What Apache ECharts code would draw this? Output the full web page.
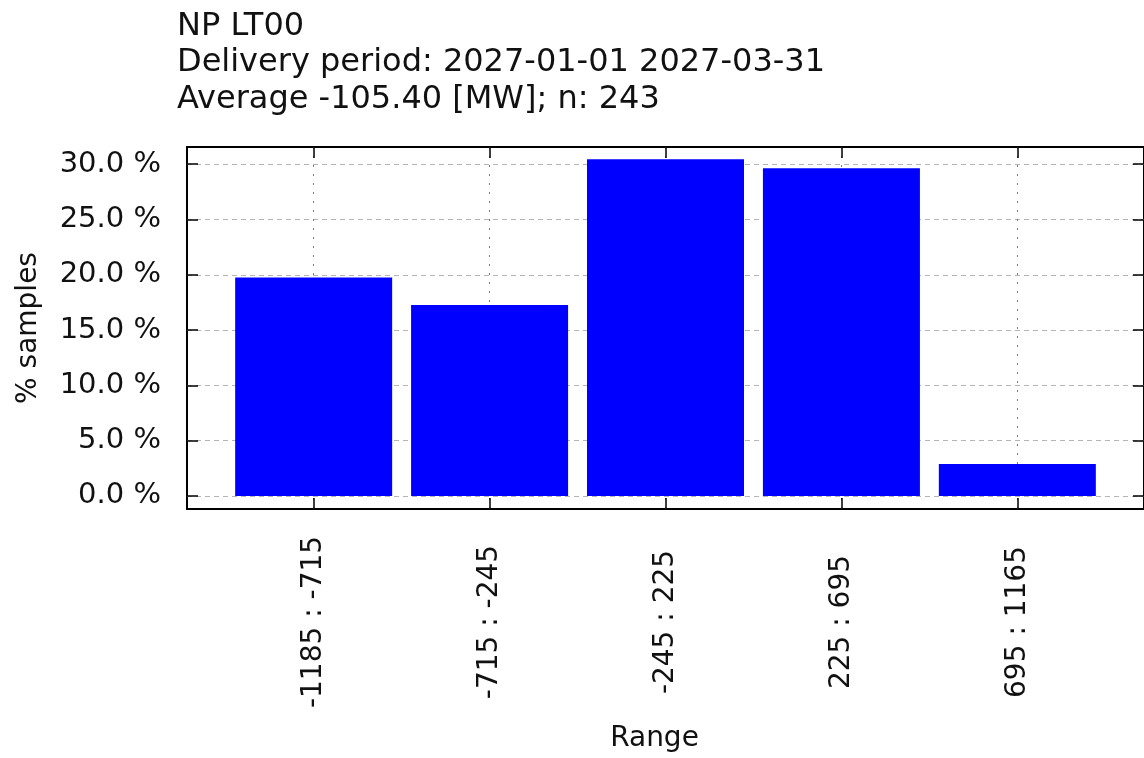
<!DOCTYPE html>
<html>
<head>
<meta charset="utf-8">
<script src="https://cdn.jsdelivr.net/npm/echarts@6/dist/echarts.min.js"></script>
<style>
  html, body { margin: 0; padding: 0; background: #fff; }
  #chart { width: 1144px; height: 758px; }
</style>
</head>
<body>
<div id="chart"></div>
<script>
const titleLines = [
  'NP LT00',
  'Delivery period: 2027-01-01 2027-03-31',
  'Average -105.40 [MW]; n: 243'
];
const categories = ['-1185 : -715', '-715 : -245', '-245 : 225', '225 : 695', '695 : 1165'];
const shares = [19.75, 17.28, 30.45, 29.63, 2.88];
const yTicks = [0, 5, 10, 15, 20, 25, 30];
const xTicks = [0, 1, 2, 3, 4];

const font = 'DejaVu Sans';
const ink = '#111';

const chart = echarts.init(document.getElementById('chart'));

const tick = { show: true, inside: true, length: 11, lineStyle: { color: '#000', width: 1.5 } };
const noLine = { show: false, onZero: false };

chart.setOption({
  animation: false,
  backgroundColor: '#fff',
  title: {
    text: titleLines.join('\n'),
    left: 172,
    top: 3,
    textStyle: { fontFamily: font, fontSize: 32, fontWeight: 'normal', color: ink, lineHeight: 36.5 }
  },
  grid: {
    left: 187, top: 147, right: -1, bottom: 249,
    show: true, borderColor: '#000', borderWidth: 2, backgroundColor: 'transparent'
  },
  xAxis: [{
    type: 'value',
    min: -0.72, max: 4.72,
    name: 'Range',
    nameLocation: 'middle',
    nameGap: 216,
    nameTextStyle: { fontFamily: font, fontSize: 28, color: ink, padding: [0, 22, 0, 0] },
    axisLine: noLine,
    axisTick: Object.assign({ customValues: xTicks }, tick),
    axisLabel: {
      customValues: xTicks,
      rotate: 90,
      align: 'center',
      verticalAlign: 'middle',
      margin: 113,
      fontFamily: font, fontSize: 28, color: ink,
      formatter: v => categories[Math.round(v)]
    },
    splitLine: { show: true, lineStyle: { color: '#7a7a7a', width: 1, type: [2, 7] } }
  }, {
    type: 'value',
    position: 'top',
    min: -0.72, max: 4.72,
    axisLine: noLine,
    axisTick: Object.assign({ customValues: xTicks }, tick),
    axisLabel: { show: false },
    splitLine: { show: false }
  }],
  yAxis: [{
    type: 'value',
    min: -1.18, max: 31.56,
    name: '% samples',
    nameLocation: 'middle',
    nameGap: 144,
    nameTextStyle: { fontFamily: font, fontSize: 28, color: ink },
    axisLine: noLine,
    axisTick: Object.assign({ customValues: yTicks }, tick),
    axisLabel: {
      customValues: yTicks,
      margin: 26,
      fontFamily: font, fontSize: 29, color: ink,
      formatter: v => v.toFixed(1) + ' %'
    },
    splitLine: { show: true, lineStyle: { color: '#b5b5b5', width: 1, type: [5, 4] } }
  }, {
    type: 'value',
    position: 'right',
    min: -1.18, max: 31.56,
    axisLine: noLine,
    axisTick: Object.assign({ customValues: yTicks }, tick),
    axisLabel: { show: false },
    splitLine: { show: false }
  }],
  series: [{
    type: 'bar',
    xAxisIndex: 0,
    yAxisIndex: 0,
    barWidth: 157,
    itemStyle: { color: '#0000ff' },
    data: shares.map((v, i) => [i, v])
  }]
});

window.addEventListener('resize', () => chart.resize());
</script>
</body>
</html>
